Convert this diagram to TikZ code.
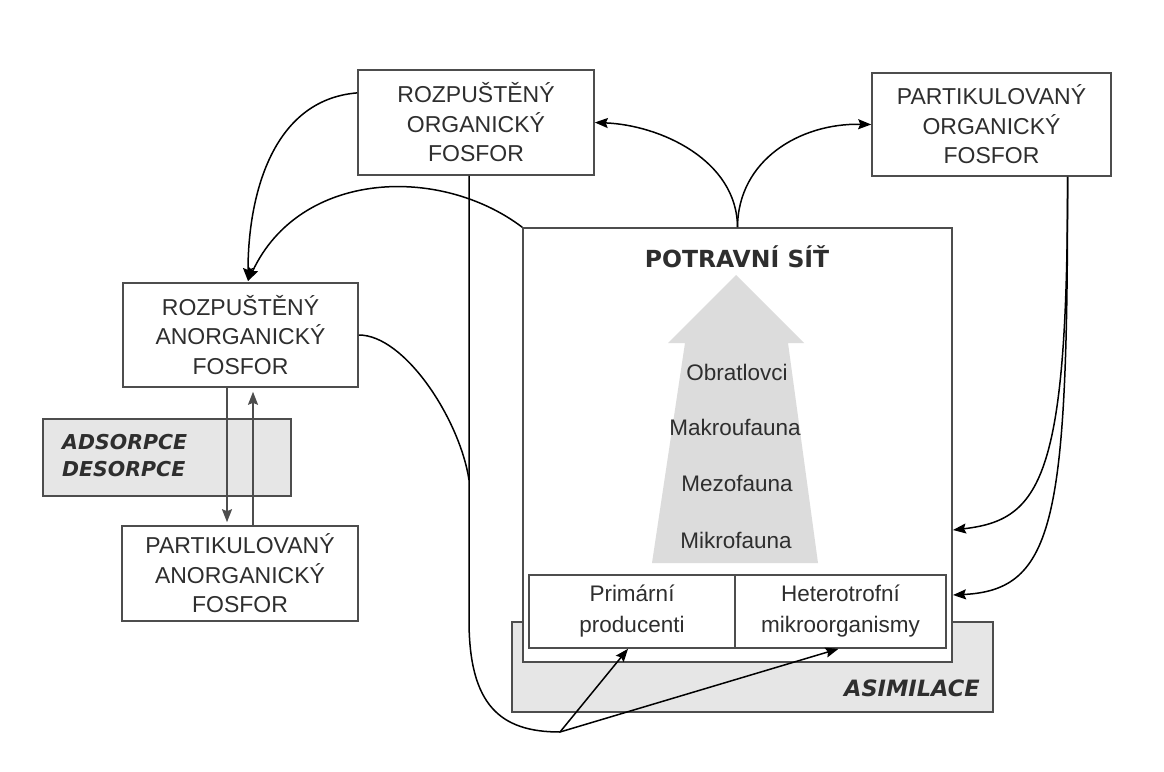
\documentclass[tikz,border=0pt]{standalone}
\usepackage{fontspec}
\setmainfont{Liberation Sans}
\newfontfamily\dejaf{DejaVu Sans}
\usetikzlibrary{arrows.meta}
\definecolor{boxgray}{HTML}{E6E6E6}
\definecolor{arrgray}{HTML}{DCDCDC}
\definecolor{edgec}{HTML}{4D4D4D}
\definecolor{txtc}{HTML}{2E2E2E}
\begin{document}
\begin{tikzpicture}[x=1pt,y=-1pt,
 box/.style={draw=edgec, line width=1.6pt, fill=white, inner sep=0pt, align=center, font=\fontsize{23}{29.5}\selectfont, text=txtc},
 gbox/.style={draw=edgec, line width=1.6pt, fill=boxgray, inner sep=0pt},
 lbl/.style={font=\fontsize{22.5}{31}\selectfont, text=txtc, align=center, inner sep=0pt},
 emtxt/.style={font=\dejaf\bfseries\itshape\fontsize{20.5}{27}\selectfont, text=txtc, align=left, inner sep=0pt},
 conn/.style={draw=black, line width=1.5pt},
 arr/.style={conn, -{Stealth[length=13pt,width=10pt,inset=2pt]}},
 garr/.style={draw=edgec, line width=1.6pt, -{Stealth[length=13pt,width=10pt,inset=2pt]}}]
\fill[white] (0,0) rectangle (1164,771);
\useasboundingbox (0,0) rectangle (1164,771);

% boxes
\node[box, minimum width=236pt, minimum height=105pt] (dop) at (476,122.5) {ROZPUŠTĚNÝ\\ORGANICKÝ\\FOSFOR};
\node[box, minimum width=239pt, minimum height=103pt] (pop) at (991.5,124.5) {PARTIKULOVANÝ\\ORGANICKÝ\\FOSFOR};
\node[box, minimum width=235pt, minimum height=104pt] (dip) at (240.5,335) {ROZPUŠTĚNÝ\\ANORGANICKÝ\\FOSFOR};
\node[gbox, minimum width=248pt, minimum height=77pt] (ads) at (167,457.5) {};
\node[emtxt, anchor=west] (adstxt) at (62,456) {ADSORPCE\\DESORPCE};
\node[box, minimum width=236pt, minimum height=95pt] (pip) at (240,573.5) {PARTIKULOVANÝ\\ANORGANICKÝ\\FOSFOR};

\node[gbox, minimum width=481pt, minimum height=90pt] (asim) at (752.5,667) {};
\node[emtxt, font=\dejaf\bfseries\itshape\fontsize{22.5}{27}\selectfont, anchor=east] (asimtxt) at (980,688) {ASIMILACE};
\node[box, minimum width=429pt, minimum height=434pt] (web) at (737.5,445) {};

% big grey arrow
\fill[arrgray] (736,275) -- (804,343) -- (788,343) -- (818,563) -- (652,563) -- (685,343) -- (668,343) -- cycle;

\node[font=\dejaf\bfseries\fontsize{23.5}{28}\selectfont, text=txtc, inner sep=0pt] (title) at (737,257) {POTRAVNÍ SÍŤ};
\node[lbl] (obr) at (737,372) {Obratlovci};
\node[lbl] (mak) at (735,427) {Makroufauna};
\node[lbl] (mez) at (737,483) {Mezofauna};
\node[lbl] (mik) at (736,540) {Mikrofauna};

\node[box, minimum width=206pt, minimum height=73pt, font=\fontsize{22.5}{31}\selectfont] (prim) at (632,611.5) {Primární\\producenti};
\node[box, minimum width=211pt, minimum height=73pt, font=\fontsize{22.5}{31}\selectfont] (het) at (840.5,611.5) {Heterotrofní\\mikroorganismy};

% adsorption / desorption arrows
\draw[garr] ([xshift=-13.5pt]dip.south) -- ([xshift=-13pt,yshift=3pt]pip.north);
\draw[garr] ([xshift=13pt]pip.north) -- ([xshift=12.5pt,yshift=-4pt]dip.south);

% connectors
\coordinate (dipin) at (248,281);
\draw[arr] (dop.166) .. controls (270,100) and (248,200) .. (dipin);
\draw[arr] (web.north west) .. controls (440,165) and (300,170) .. (dipin);

\draw[arr] (web.north) .. controls (737,160) and (660,125) .. (dop.east);
\draw[arr] (web.north) .. controls (738,160) and (800,123) .. (pop.west);

\coordinate (join) at (469,480);
\coordinate (split) at (560,732);
\draw[conn] ([xshift=-7pt]dop.south) -- (469,620) .. controls (469,705) and (500,732) .. (split);
\draw[conn] (dip.east) .. controls (405,335) and (460,420) .. (join);
\draw[arr] (split) -- ([xshift=-4pt]prim.south);
\draw[arr] (split) -- ([xshift=-2pt]het.south);

\coordinate (in1) at (953,530);
\coordinate (in2) at (953,595);
\draw[arr] ([xshift=76pt]pop.south) .. controls (1068,480) and (1040,520) .. (in1);
\draw[arr] ([xshift=76pt]pop.south) .. controls (1068,520) and (1055,590) .. (in2);
\end{tikzpicture}
\end{document}
